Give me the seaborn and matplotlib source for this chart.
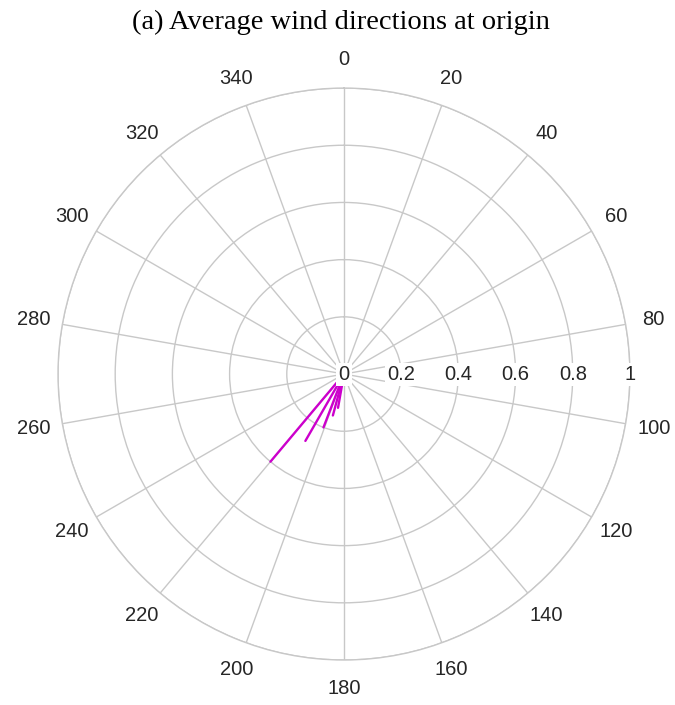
import numpy as np
import pandas as pd
import matplotlib
matplotlib.use("Agg")
import matplotlib.pyplot as plt
import seaborn as sns

# wind directions (degrees, clockwise from north) and magnitudes
directions = [220, 210, 201, 195, 190]
magnitudes = [0.40, 0.27, 0.20, 0.15, 0.12]

angle_ticks = list(range(0, 360, 20))
radial_ticks = [0, 0.2, 0.4, 0.6, 0.8, 1]
radial_labels = ["0", "0.2", "0.4", "0.6", "0.8", "1"]

title = "(a) Average wind directions at origin"

sns.set_style("white")
plt.rcParams['font.family'] = ['Liberation Sans', 'DejaVu Sans']

# each arrow = segment from origin to tip
rows = []
for i, (d, m) in enumerate(zip(directions, magnitudes)):
    rows.append({"arrow": i, "theta": 0.0, "r": 0.0})
    rows.append({"arrow": i, "theta": np.deg2rad(d), "r": m})
df = pd.DataFrame(rows)

fig = plt.figure(figsize=(6.75, 7.05), dpi=100)
ax = fig.add_axes([0.0859, 0.0638, 0.8474, 0.8113], projection='polar')
ax.set_theta_zero_location('N')
ax.set_theta_direction(-1)

grid_col = '#c8c8c8'
ax.set_xticks(np.deg2rad(angle_ticks))
ax.set_xticklabels([])
ax.set_yticks([0.2, 0.4, 0.6, 0.8, 1.0])
ax.set_yticklabels([])
ax.set_ylim(0, 1)
ax.grid(True, color=grid_col, linewidth=1, linestyle='-')
ax.spines['polar'].set_color(grid_col)
ax.spines['polar'].set_linewidth(1)

sns.lineplot(data=df, x='theta', y='r', units='arrow', estimator=None,
             sort=False, color='#cc00cc', linewidth=1.7, ax=ax, legend=False)
ax.set_xlabel('')
ax.set_ylabel('')

for a in angle_ticks:
    ax.text(np.deg2rad(a), 1.1, str(a), ha='center', va='center',
            fontsize=14.5, color='#262626', clip_on=False)

for r, lab in zip(radial_ticks, radial_labels):
    ax.text(np.deg2rad(90), r, lab, ha='center', va='center', fontsize=14.5,
            color='#262626', zorder=5,
            bbox=dict(facecolor='white', edgecolor='none', pad=1.5))

fig.text(0.505, 0.968, title, ha='center', va='center', fontsize=20.5,
         family=['Liberation Serif', 'DejaVu Serif'], color='black')

fig.savefig('out.png', dpi=100)
